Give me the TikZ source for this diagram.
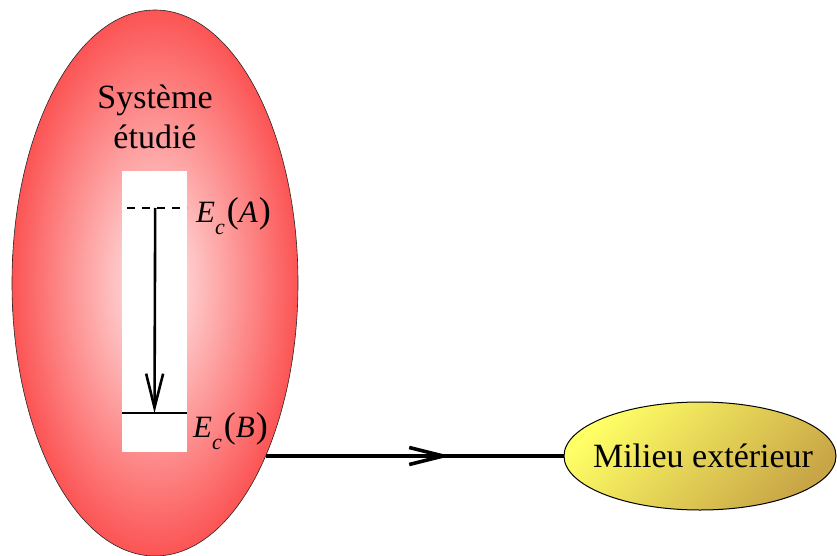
\documentclass[tikz,border=0pt]{standalone}
\usepackage{fontspec}
\setmainfont{Liberation Serif}
\usetikzlibrary{arrows.meta,positioning,calc,shapes.geometric,decorations.markings}

\definecolor{sysred}{RGB}{252,84,84}
\definecolor{syscore}{RGB}{255,238,238}
\definecolor{extyellow}{RGB}{255,255,102}
\definecolor{extgold}{RGB}{200,165,70}

\begin{document}
\begin{tikzpicture}[x=1pt,y=-1pt,
    >={Straight Barb[length=34pt,width=17pt]},
    system/.style={ellipse,draw=black!85,line width=.6pt,inner color=syscore,outer color=sysred,
        minimum width=286pt,minimum height=546pt,inner sep=0pt},
    outside/.style={ellipse,draw=black,line width=1pt,top color=extyellow,middle color=extyellow,
        bottom color=extgold,shading angle=45,minimum width=272pt,minimum height=108pt,
        inner sep=0pt},
    well/.style={fill=white,minimum width=65pt,minimum height=281pt,inner sep=0pt},
    level/.style={line width=2.5pt},
    energy/.style={anchor=base west,inner sep=0pt,font=\fontsize{31}{34}\selectfont},
    flow/.style={->,line width=2.6pt},
    link/.style={line width=3.6pt,postaction={decorate},
        decoration={markings,mark=at position .62 with {\arrow[line width=3.6pt]{>}}}}]
\newcommand{\ecin}[1]{{\itshape E}\raisebox{-.4em}{\fontsize{22}{22}\selectfont\itshape c}\kern2pt{\fontsize{36}{36}\selectfont(}{\itshape #1}\kern1pt{\fontsize{36}{36}\selectfont)}}
\useasboundingbox (0,0) rectangle (837,556);
\node[system] (sys) at (155,283) {};
\node[align=center,font=\fontsize{34}{40}\selectfont] (title) at (155,117) {Système\\étudié};
\node[well] (box) at (154.5,311.5) {};
\coordinate (A0) at (127,208);
\coordinate (A1) at (187,208);
\coordinate (B0) at (122,413);
\coordinate (B1) at (187,413);
\draw[level,dash pattern=on 8pt off 7pt] (A0)--(A1);
\draw[level] (B0)--(B1);
\node[energy] (EA) at (196,222) {\ecin{A}};
\node[energy] (EB) at (193,437) {\ecin{B}};
\draw[flow] ($(A0)!.47!(A1)$)--($(B0)!.5!(B1)$);
\node[outside] (ext) at (700,456) {};
\node[font=\fontsize{34}{40}\selectfont] (extname) at (703,456) {Milieu extérieur};
\draw[link] (sys.-57.4 |- ext.west)--(ext.west);
\end{tikzpicture}
\end{document}
